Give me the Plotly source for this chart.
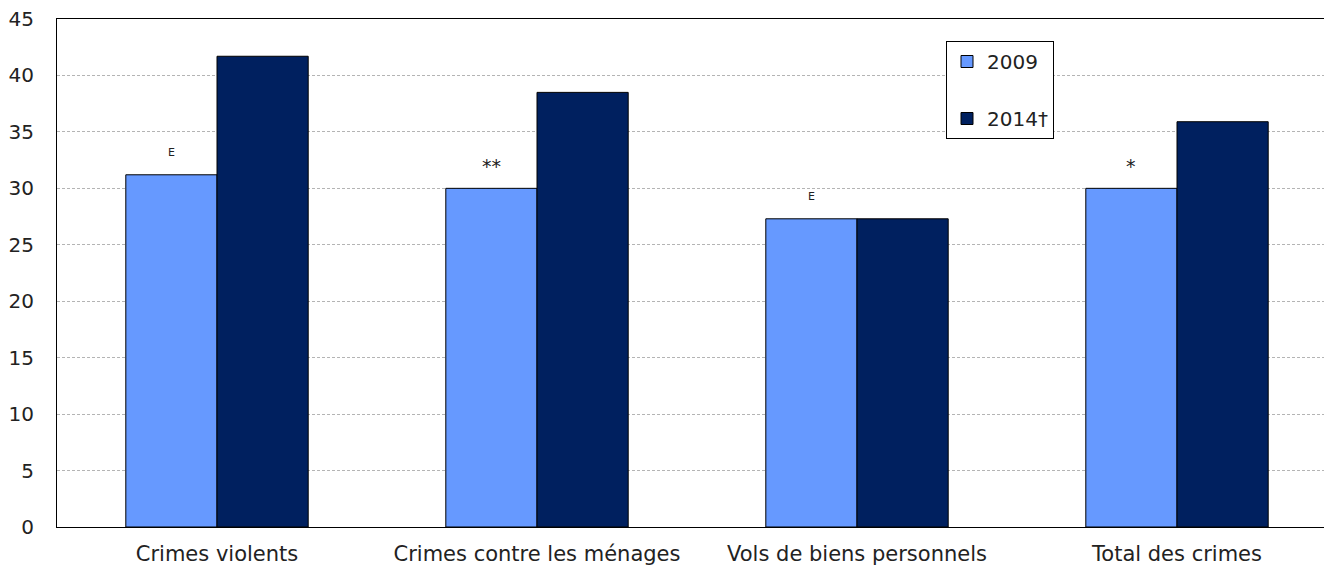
import plotly.graph_objects as go

categories = ["Crimes violents", "Crimes contre les ménages", "Vols de biens personnels", "Total des crimes"]
values_2009 = [31.2, 30.0, 27.3, 30.0]
values_2014 = [41.7, 38.5, 27.3, 35.9]
notes_2009 = ["E", "**", "E", "*"]
series_names = ["2009", "2014†"]

FONT = "DejaVu Sans"
fig = go.Figure()
fig.add_trace(go.Bar(x=categories, y=values_2009, name=series_names[0], legendgroup="a",
                     marker=dict(color="#6699FF", line=dict(color="black", width=1))))
fig.add_trace(go.Bar(x=categories, y=values_2014, name=series_names[1], legendgroup="b",
                     marker=dict(color="#00205F", line=dict(color="black", width=1))))

for i, (cat, v, n) in enumerate(zip(categories, values_2009, notes_2009)):
    small = n == "E"
    fig.add_annotation(x=i, y=v, xref="x", yref="y", text=n, showarrow=False,
                       xshift=-46, yshift=22,
                       font=dict(family=FONT, size=11 if small else 19, color="#222"))

fig.update_layout(
    width=1332, height=567,
    margin=dict(l=49, r=3, t=11, b=48, autoexpand=False),
    plot_bgcolor="white", paper_bgcolor="white",
    barmode="group", bargap=0.43, bargroupgap=0,
    font=dict(family=FONT, size=21, color="#222"),
    showlegend=True,
    legend=dict(x=(946 - 57) / 1280, y=1 - (41 - 19) / 508, xanchor="left", yanchor="top",
                bordercolor="black", borderwidth=1, bgcolor="white",
                tracegroupgap=28, font=dict(family=FONT, size=20, color="#222")),
    xaxis=dict(range=[-0.5, 3.5], showline=True, linecolor="black", linewidth=1, mirror=True,
               ticks="", tickfont=dict(size=21), showgrid=False, ticklabelstandoff=8,
               automargin=False),
    yaxis=dict(range=[0, 45], dtick=5, showline=True, linecolor="black", linewidth=1,
               showgrid=True, gridcolor="#b4b4b4", griddash="3px,2px", gridwidth=1,
               ticks="", ticklabelstandoff=18, tickfont=dict(size=20), zeroline=False,
               ticklabeloverflow="allow", automargin=False),
)
fig.write_html("out.html")
